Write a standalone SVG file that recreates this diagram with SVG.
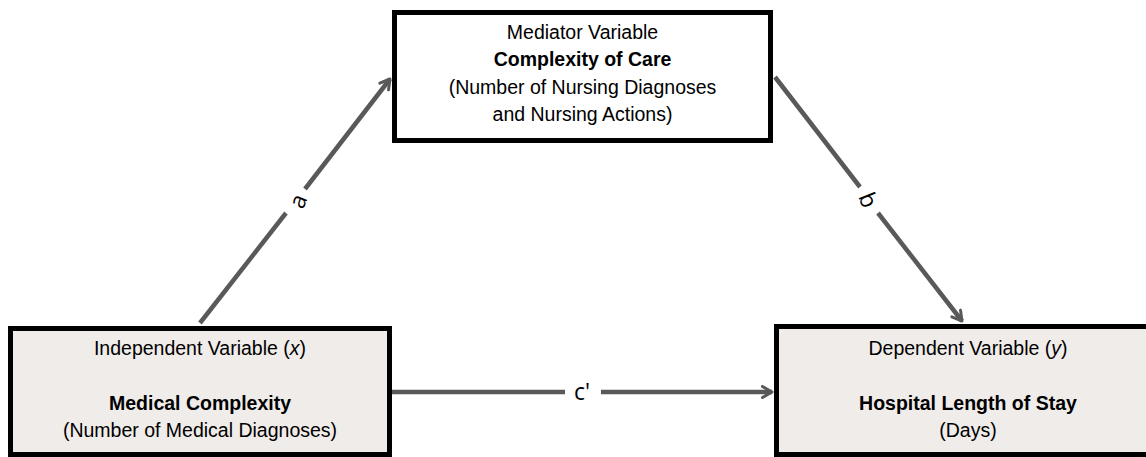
<svg xmlns="http://www.w3.org/2000/svg" width="1146" height="457" viewBox="0 0 1146 457">
  <style>
    .box { stroke: #000; stroke-width: 5; }
    .mid { fill: #ffffff; }
    .side { fill: #f0ecea; }
    .t { font-family: "Liberation Sans", Arial, sans-serif; font-size: 19.5px; fill: #000; text-anchor: middle; }
    .b { font-weight: bold; }
    .edge { stroke: #595959; stroke-width: 4.5; fill: none; stroke-linecap: butt; }
    .lbl { font-family: "Open Sans", "DejaVu Sans", sans-serif; font-size: 23px; fill: #000; text-anchor: middle; }
  </style>
  <defs>
    <marker id="arr" viewBox="0 0 14 14" refX="12" refY="7" markerWidth="14" markerHeight="14" markerUnits="userSpaceOnUse" orient="auto">
      <path d="M2.5,1.5 L12,7 L2.5,12.5" fill="none" stroke="#595959" stroke-width="3" stroke-linecap="round" stroke-linejoin="round"/>
    </marker>
  </defs>
  <rect width="1146" height="457" fill="#ffffff"/>

  <g id="connectors">
    <line class="edge" x1="200" y1="323" x2="286" y2="213"/>
    <line class="edge" x1="305" y1="189" x2="390" y2="79" marker-end="url(#arr)"/>
    <line class="edge" x1="775" y1="77" x2="860" y2="187"/>
    <line class="edge" x1="878" y1="213" x2="962" y2="321" marker-end="url(#arr)"/>
    <line class="edge" x1="392" y1="392" x2="565" y2="392"/>
    <line class="edge" x1="601" y1="392" x2="772" y2="392" marker-end="url(#arr)"/>
    <text class="lbl" transform="translate(298,201) rotate(-68)" y="8">a</text>
    <text class="lbl" transform="translate(868,200) rotate(68)" y="8">b</text>
    <text class="lbl" x="582" y="400">c'</text>
  </g>

  <g id="mediator">
    <rect class="box mid" x="394.5" y="12.5" width="376" height="128"/>
    <text class="t" x="582.5" y="39">Mediator Variable</text>
    <text class="t b" x="582.5" y="66">Complexity of Care</text>
    <text class="t" x="582.5" y="94">(Number of Nursing Diagnoses</text>
    <text class="t" x="582.5" y="121">and Nursing Actions)</text>
  </g>

  <g id="independent">
    <rect class="box side" x="10.5" y="328.5" width="379" height="126"/>
    <text class="t" x="200" y="355">Independent Variable (<tspan font-style="italic">x</tspan>)</text>
    <text class="t b" x="200" y="410">Medical Complexity</text>
    <text class="t" x="200" y="437">(Number of Medical Diagnoses)</text>
  </g>

  <g id="dependent">
    <rect class="box side" x="776.5" y="326.5" width="383" height="128"/>
    <text class="t" x="968" y="355">Dependent Variable (<tspan font-style="italic">y</tspan>)</text>
    <text class="t b" x="968" y="410">Hospital Length of Stay</text>
    <text class="t" x="968" y="437">(Days)</text>
  </g>
</svg>
